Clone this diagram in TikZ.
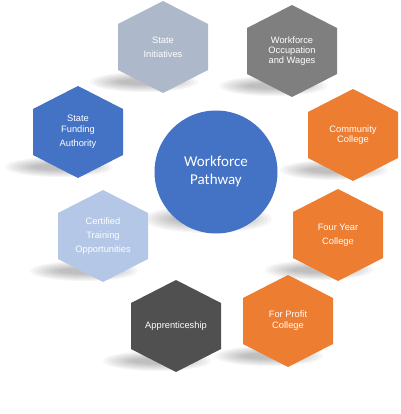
\documentclass[tikz,border=0pt]{standalone}
\usepackage{fontspec}
\setmainfont{Liberation Sans}
\newfontfamily\calibfont{Carlito}
\definecolor{cSIcol}{HTML}{ADB9CA}
\definecolor{cWOcol}{HTML}{7F7F7F}
\definecolor{cBlue}{HTML}{4472C4}
\definecolor{cOrange}{HTML}{ED7D31}
\definecolor{cLight}{HTML}{B4C7E7}
\definecolor{cDark}{HTML}{505050}
\newcommand\myhex[2]{\fill[#2, shift={(#1)}] (0,-46) -- (45,-23) -- (45,23) -- (0,46) -- (-45,23) -- (-45,-23) -- cycle;}
\newcommand\myshadow[1]{\foreach \k in {0,...,7}{\fill[black,opacity=0.035,shift={(#1)}] (-19,35) ellipse ({54-\k*4} and {10-\k*1});}}
\begin{document}
\begin{tikzpicture}[x=1pt,y=-1pt,
  hexlabel/.style={text=white, align=center, inner sep=0pt},
  fsA/.style={font=\fontsize{9.3}{10.3}\selectfont},
  fsB/.style={font=\fontsize{9.3}{14}\selectfont},
  fsC/.style={font=\fontsize{9.3}{11}\selectfont}]
\useasboundingbox (0,0) rectangle (400,414);
\coordinate (pSI) at (163,47);
\coordinate (pWO) at (292,51);
\coordinate (pSF) at (78,132);
\coordinate (pCC) at (353,135);
\coordinate (pCT) at (103,236);
\coordinate (pFY) at (338,235);
\coordinate (pAP) at (176,326);
\coordinate (pFP) at (288,321);
\coordinate (pWP) at (216,172);
% shadows
\foreach \p in {pSI,pWO,pSF,pCC,pCT,pFY,pAP,pFP}{\myshadow{\p}}
\foreach \k in {0,...,7}{\fill[black,opacity=0.035] (208,219) ellipse ({64-\k*4} and {14-\k*1.3});}
% hexagons
\myhex{pSI}{cSIcol}
\myhex{pWO}{cWOcol}
\myhex{pSF}{cBlue}
\myhex{pCC}{cOrange}
\myhex{pCT}{cLight}
\myhex{pFY}{cOrange}
\myhex{pAP}{cDark}
\myhex{pFP}{cOrange}
% centre circle
\node[circle, fill=cBlue, minimum size=123pt, inner sep=0pt, text=white, align=center,
      font=\calibfont\fontsize{15}{18}\selectfont] (wp) at (pWP) {Workforce\\Pathway};
% labels
\node[hexlabel, fsB] (si) at (pSI) {State\\Initiatives};
\node[hexlabel, fsA] (wo) at (pWO) {Workforce\\Occupation\\and Wages};
\node[hexlabel, fsC] (sf) at (pSF) {State\\Funding\\[3pt]Authority};
\node[hexlabel, fsA] (cc) at (pCC) {Community\\College};
\node[hexlabel, fsB] (ct) at (pCT) {Certified\\Training\\Opportunities};
\node[hexlabel, fsB] (fy) at (pFY) {Four Year\\College};
\node[hexlabel, fsA] (ap) at (pAP) {Apprenticeship};
\node[hexlabel, fsC] (fp) at (pFP) {For Profit\\College};
\end{tikzpicture}
\end{document}
